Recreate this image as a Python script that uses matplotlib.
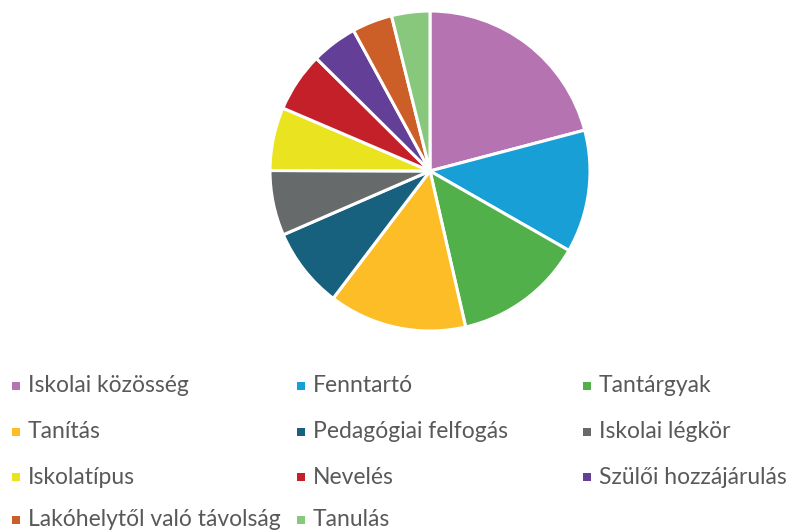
import matplotlib
matplotlib.use("Agg")
import matplotlib.pyplot as plt
from matplotlib.patches import Rectangle

labels = ["Iskolai közösség", "Fenntartó", "Tantárgyak", "Tanítás",
          "Pedagógiai felfogás", "Iskolai légkör", "Iskolatípus", "Nevelés",
          "Szülői hozzájárulás", "Lakóhelytől való távolság", "Tanulás"]
values = [54, 32, 34, 36, 21, 17, 16.5, 15.5, 12, 10.5, 10]
colors = ["#B673B1", "#189FD6", "#52B04A", "#FDBD26", "#17607E", "#676A6B",
          "#EAE320", "#C4202A", "#633F97", "#CC5E28", "#88C87C"]

W, H = 800, 531
fig = plt.figure(figsize=(W / 100, H / 100), dpi=100)

cx, cy, r = 430, 171, 160
ax = fig.add_axes([(cx - r) / W, (H - cy - r) / H, 2 * r / W, 2 * r / H])
ax.pie(values, colors=colors, startangle=90, counterclock=False,
       wedgeprops=dict(edgecolor="white", linewidth=2.2), radius=1.0)
ax.set_xlim(-1, 1)
ax.set_ylim(-1, 1)
ax.axis("off")

col_x = [12, 297, 583]
row_y = [386, 432, 477, 520]
sq = 8
for i, (lab, col) in enumerate(zip(labels, colors)):
    rr, cc = divmod(i, 3)
    x, y = col_x[cc], row_y[rr]
    fig.add_artist(Rectangle((x / W, (H - y - sq / 2) / H), sq / W, sq / H,
                             transform=fig.transFigure, facecolor=col,
                             edgecolor="none"))
    fig.text((x + 16) / W, (H - y) / H, lab, fontsize=16.5, color="#595959",
             va="center", ha="left", family="Lato")

fig.savefig("out.png", dpi=100)
